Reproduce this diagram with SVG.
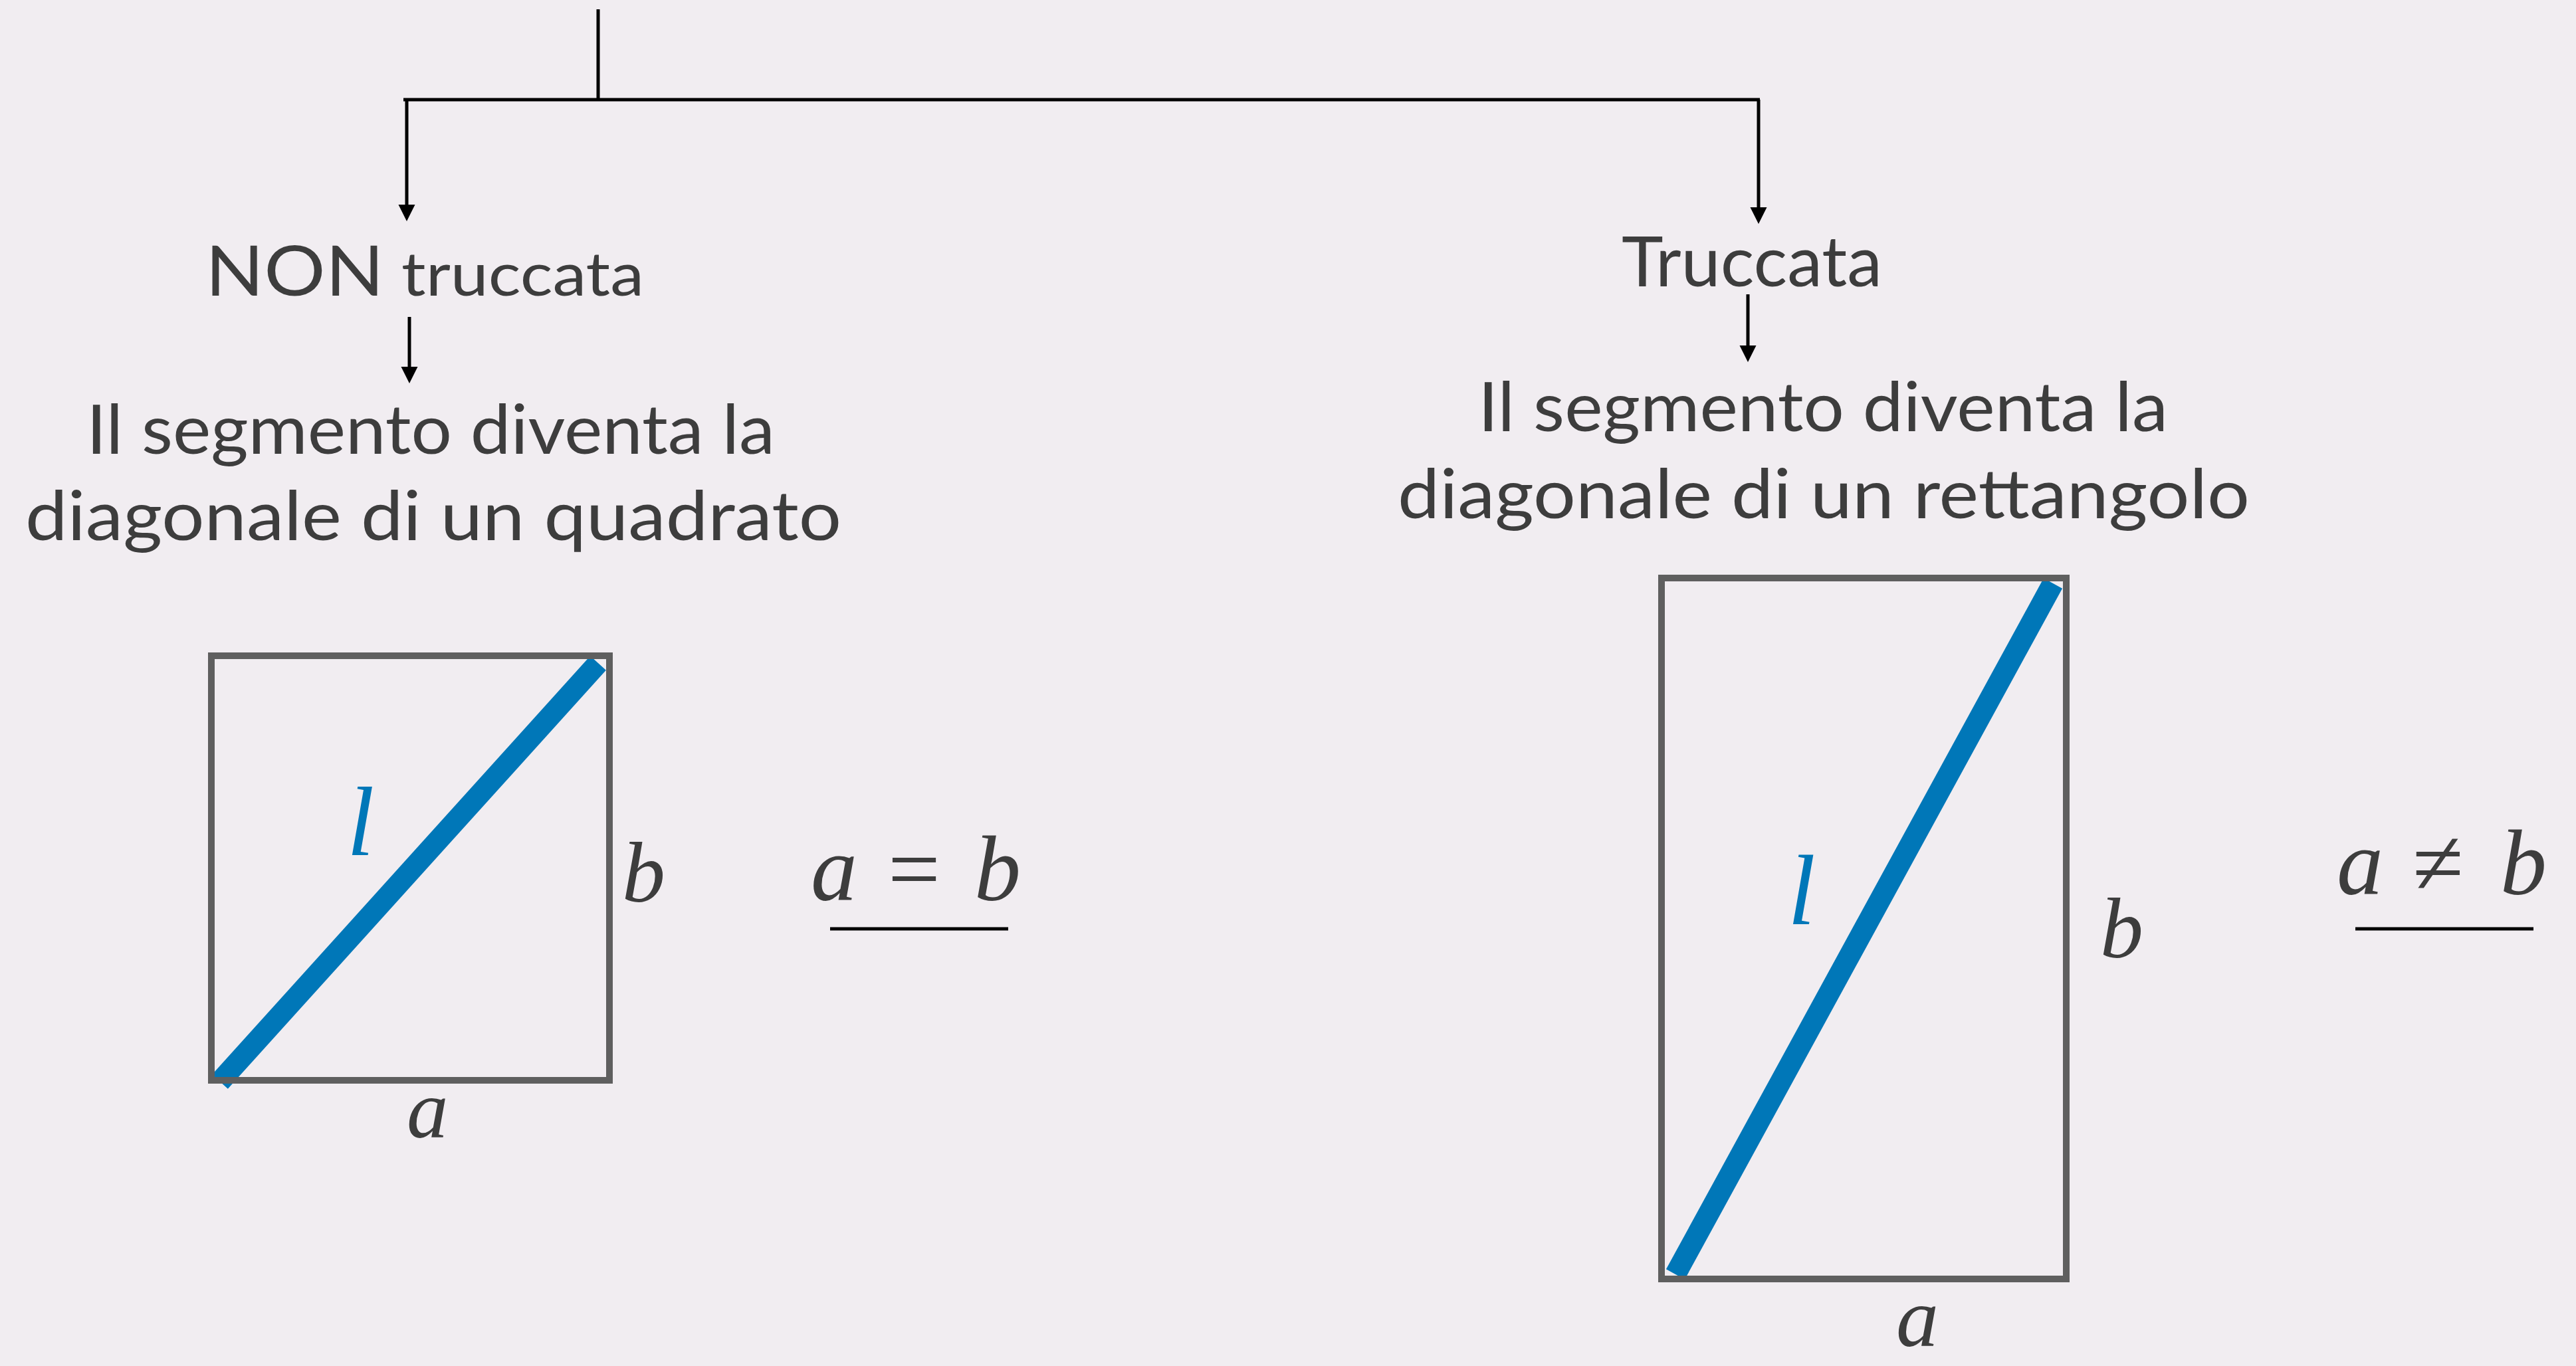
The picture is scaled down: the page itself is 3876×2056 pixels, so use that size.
<svg xmlns="http://www.w3.org/2000/svg" width="3876" height="2056" viewBox="0 0 3876 2056">
<style>
.bg{fill:#f1edf1}
.lbl{font-family:Lato,"Liberation Sans",sans-serif;fill:#3d3d3d}
.math{font-family:"Liberation Serif",serif;font-style:italic;fill:#3d3d3d}
.up{font-style:normal}
.con{stroke:#000;stroke-width:5;fill:none}
.box{fill:none;stroke:#5f5f5f;stroke-width:10}
.seg{stroke:#0077b8;stroke-width:32;stroke-linecap:butt}
.ul{stroke:#000;stroke-width:5}
</style>
<defs>
<marker id="arr" markerUnits="userSpaceOnUse" markerWidth="26" markerHeight="26" viewBox="0 0 26 26" refX="15" refY="13" orient="auto">
<path d="M0,0.5 L25,13 L0,25.5 z" fill="#000"/>
</marker>
</defs>
<rect class="bg" x="0" y="0" width="3876" height="2056"/>

<g id="connectors">
<line class="con" x1="900" y1="14" x2="900" y2="150"/>
<line class="con" x1="607" y1="150" x2="2648" y2="150"/>
<line class="con" x1="612" y1="150" x2="612" y2="323" marker-end="url(#arr)"/>
<line class="con" x1="2646" y1="150" x2="2646" y2="327" marker-end="url(#arr)"/>
<line class="con" x1="616" y1="477" x2="616" y2="567" marker-end="url(#arr)"/>
<line class="con" x1="2630" y1="443" x2="2630" y2="535" marker-end="url(#arr)"/>
</g>

<g id="non-truccata">
<text class="lbl" x="309" y="445" textLength="660" lengthAdjust="spacingAndGlyphs"><tspan font-size="104">NON</tspan><tspan font-size="92"> truccata</tspan></text>
</g>

<g id="desc-quadrato">
<text class="lbl" font-size="102" x="130" y="683" textLength="1036" lengthAdjust="spacingAndGlyphs">Il segmento diventa la</text>
<text class="lbl" font-size="102" x="38" y="813" textLength="1228" lengthAdjust="spacingAndGlyphs">diagonale di un quadrato</text>
</g>

<g id="truccata">
<text class="lbl" font-size="104" x="2440" y="431" textLength="392" lengthAdjust="spacingAndGlyphs">Truccata</text>
</g>

<g id="desc-rettangolo">
<text class="lbl" font-size="102" x="2224" y="649" textLength="1038" lengthAdjust="spacingAndGlyphs">Il segmento diventa la</text>
<text class="lbl" font-size="102" x="2103" y="780" textLength="1282" lengthAdjust="spacingAndGlyphs">diagonale di un rettangolo</text>
</g>

<g id="square">
<line class="seg" x1="331" y1="1628" x2="900" y2="998"/>
<rect class="box" x="318" y="987" width="599" height="639"/>
<text class="math" font-size="148" x="522" y="1287" style="fill:#0077b8">l</text>
<text class="math" font-size="130" x="936" y="1357">b</text>
<text class="math" font-size="125" x="612" y="1712">a</text>
</g>

<g id="eq-equal">
<text class="math" font-size="140" y="1355"><tspan x="1220">a</tspan><tspan class="up" x="1336">=</tspan><tspan x="1466">b</tspan></text>
<line class="ul" x1="1249" y1="1398" x2="1517" y2="1398"/>
</g>

<g id="rectangle">
<line class="seg" x1="2521" y1="1918" x2="3089" y2="878"/>
<rect class="box" x="2500" y="870" width="609" height="1055"/>
<text class="math" font-size="150" x="2690" y="1391" style="fill:#0077b8">l</text>
<text class="math" font-size="130" x="3160" y="1441">b</text>
<text class="math" font-size="128" x="2853" y="2026">a</text>
</g>

<g id="eq-notequal">
<text class="math" font-size="140" y="1346"><tspan x="3516">a</tspan><tspan class="up" x="3630">≠</tspan><tspan x="3762">b</tspan></text>
<line class="ul" x1="3544" y1="1398" x2="3812" y2="1398"/>
</g>
</svg>
